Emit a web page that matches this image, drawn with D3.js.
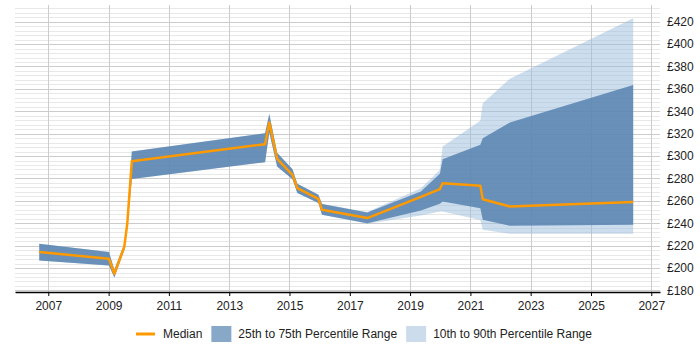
<!DOCTYPE html>
<html>
<head>
<meta charset="utf-8">
<script src="https://cdn.jsdelivr.net/npm/d3@7"></script>
<style>
  body { margin: 0; background: #fff; }
  #chart text { font-family: "Liberation Sans", Arial, sans-serif; }
</style>
</head>
<body>
<div id="chart"></div>
<script>
// Dates as decimal years
const years = [2006.70, 2009.01, 2009.19, 2009.52, 2009.62, 2009.77, 2014.19, 2014.33, 2014.59,
    2015.10, 2015.26, 2015.96, 2016.08, 2017.58, 2019.36, 2019.99, 2020.08, 2021.33, 2021.41,
    2022.31, 2026.40];
const median = [214.3, 208.3, 194.9, 219, 240, 295.4, 310.6, 329.9, 297.5, 283.2, 271.3, 261.8,
    252, 244.6, 263.5, 270.5, 275.8, 273.4, 261.5, 255, 258.9];
const p25 = [206.8, 202.3, 191.5, 216, 237, 279.6, 294.5, 321, 290.6, 279.4, 266.9, 258,
    247.5, 240.1, 251.4, 257.3, 259.4, 253.5, 243.1, 237.7, 238.6];
const p75 = [221.7, 214.3, 198.5, 221.5, 243, 304, 320.4, 337.6, 303, 288.3, 275.2, 265.4,
    257.1, 249.6, 268.3, 284.1, 297.2, 310, 316, 329.9, 363.5];
const p10 = [206.8, 202.3, 191.5, 216, 237, 279.6, 294.5, 321, 290.6, 279.4, 266.9, 258,
    247.5, 239.5, 247, 250.5, 250.5, 243, 234.1, 230.6, 230.6];
const p90 = [221.7, 214.3, 198.5, 221.5, 243, 304, 320.4, 337.6, 303, 288.3, 275.2, 265.4,
    257.1, 250, 271.3, 287.5, 308.5, 331.6, 347.1, 369, 423];
const xTicks = [2007, 2009, 2011, 2013, 2015, 2017, 2019, 2021, 2023, 2025, 2027];
const yTicks = [180, 200, 220, 240, 260, 280, 300, 320, 340, 360, 380, 400, 420];
const legendLabels = ["Median", "25th to 75th Percentile Range", "10th to 90th Percentile Range"];

function toDate(y) {
    const yr = Math.floor(y);
    const start = new Date(yr, 0, 1), end = new Date(yr + 1, 0, 1);
    return new Date(start.getTime() + (y - yr) * (end - start));
}

const data = years.map((y, i) => ({
    date: toDate(y), median: median[i], p25: p25[i], p75: p75[i], p10: p10[i], p90: p90[i]
}));

const width = 700, height = 350;
const plot = {left: 15, right: 660, top: 5, bottom: 292};

const svg = d3.select("#chart")
    .append("svg")
    .attr("width", width)
    .attr("height", height);

// scales
const x = d3.scaleTime()
    .domain([toDate(2005.895), toDate(2027.29)])
    .range([plot.left, plot.right]);

const y = d3.scaleLinear()
    .domain([178.6, 434.9])
    .range([plot.bottom, plot.top]);

// horizontal grid, minor every 4, major every 20
const minor = d3.range(180, 436, 4);
svg.append("g")
    .selectAll("line")
    .data(minor)
    .join("line")
    .attr("x1", plot.left)
    .attr("x2", plot.right)
    .attr("y1", d => Math.round(y(d)) + 0.5)
    .attr("y2", d => Math.round(y(d)) + 0.5)
    .attr("stroke", d => d % 20 === 0 ? "#cccccc" : "#e8e8e8")
    .attr("stroke-width", 1);

// vertical grid
svg.append("g")
    .selectAll("line")
    .data(xTicks)
    .join("line")
    .attr("x1", d => Math.round(x(new Date(d, 0, 1))) + 0.5)
    .attr("x2", d => Math.round(x(new Date(d, 0, 1))) + 0.5)
    .attr("y1", plot.top)
    .attr("y2", plot.bottom)
    .attr("stroke", "#cccccc");

// bands
const area = (lo, hi) => d3.area()
    .x(d => x(d.date))
    .y0(d => y(d[lo]))
    .y1(d => y(d[hi]));

svg.append("path")
    .datum(data)
    .attr("fill", "#99bbdd")
    .attr("fill-opacity", 0.5)
    .attr("d", area("p10", "p90"));

svg.append("path")
    .datum(data)
    .attr("fill", "#5682af")
    .attr("fill-opacity", 0.85)
    .attr("d", area("p25", "p75"));

// median line
const line = d3.line()
    .x(d => x(d.date))
    .y(d => y(d.median));

svg.append("path")
    .datum(data)
    .attr("fill", "none")
    .attr("stroke", "#ff9900")
    .attr("stroke-width", 2.5)
    .attr("stroke-linejoin", "round")
    .attr("d", line);

// x axis
const xAxis = svg.append("g")
    .attr("transform", `translate(0,${plot.bottom})`)
    .call(d3.axisBottom(x)
        .tickValues(xTicks.map(d => new Date(d, 0, 1)))
        .tickFormat(d3.timeFormat("%Y"))
        .tickSize(4)
        .tickSizeOuter(0));
xAxis.select(".domain").attr("stroke", "#000").attr("stroke-width", 1.5);
xAxis.selectAll(".tick line").attr("stroke", "#000");
xAxis.selectAll("text")
    .attr("dy", "0.95em")
    .attr("fill", "#222")
    .style("font-size", "12px");

// y axis on the right, labels only
const yAxis = svg.append("g")
    .attr("transform", `translate(${plot.right},0)`)
    .call(d3.axisRight(y).tickValues(yTicks).tickFormat(d => "£" + d).tickSize(0).tickPadding(7));
yAxis.select(".domain").remove();
yAxis.selectAll("text")
    .attr("fill", "#222")
    .style("font-size", "12px");

// legend
const legend = svg.append("g")
    .attr("transform", "translate(136,334)");
let lx = 0;
legendLabels.forEach((label, i) => {
    const g = legend.append("g").attr("transform", `translate(${lx},0)`);
    if (i === 0) {
        g.append("line")
            .attr("x1", 0).attr("x2", 19)
            .attr("y1", 0).attr("y2", 0)
            .attr("stroke", "#ff9900")
            .attr("stroke-width", 3);
    } else {
        g.append("rect")
            .attr("x", 0).attr("y", -8)
            .attr("width", 20).attr("height", 16)
            .attr("fill", i === 1 ? "#88a8c8" : "#cddcec");
    }
    const t = g.append("text")
        .attr("x", 27)
        .attr("y", 0)
        .attr("dy", "0.35em")
        .attr("fill", "#222")
        .style("font-size", "12px")
        .text(label);
    lx += 27 + t.node().getComputedTextLength() + 9;
});
</script>
</body>
</html>
